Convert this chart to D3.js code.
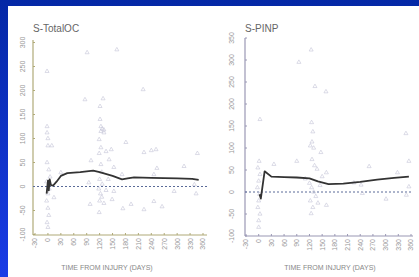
<!DOCTYPE html>
<html>
<head>
<meta charset="utf-8">
<script src="https://cdn.jsdelivr.net/npm/d3@7"></script>
<style>
  html, body { margin: 0; padding: 0; overflow: hidden; }
  svg { display: block; }
  text { font-family: "Liberation Sans", Arial, sans-serif; }
</style>
</head>
<body>
<svg id="chart" width="419" height="277"></svg>
<script>
// x ticks, days from injury
const dayTicks = [-30, 0, 30, 60, 90, 120, 150, 180, 210, 240, 270, 300, 330, 360];

// S-TotalOC panel
const ocTitle = "S-TotalOC";
const ocTicks = [-100, -50, 0, 50, 100, 150, 200, 250, 300];
const ocPoints = [
  [91, 279], [160, 285], [-2, 240], [86, 181], [128, 183], [121, 167], [221, 202], [121, 140],
  [123, 125], [126, 120], [130, 118], [-2, 125], [-2, 112], [123, 115], [130, 112], [0, 100],
  [0, 85], [9, 85], [119, 98], [181, 92], [123, 81], [135, 73], [147, 77], [119, 69], [223, 71],
  [240, 75], [251, 77], [347, 69], [100, 54], [142, 56], [-2, 50], [123, 46], [2, 35], [153, 40],
  [30, 29], [316, 42], [253, 38], [172, 25], [246, 25], [95, 8], [340, 4], [293, -10], [344, -15],
  [153, -10], [122, -15], [125, -22], [120, -30], [130, -35], [118, -5], [126, 5], [135, -8],
  [14, -23], [0, -15], [-3, -30], [0, -45], [2, -60], [-2, -75], [0, -85], [98, -37], [149, -27],
  [174, -46], [193, -37], [223, -48], [265, -42], [246, -31], [119, -54], [5, 20], [-3, 10],
  [3, -5], [125, 30], [120, 15], [140, 15]
];
const ocMeanDays = [-3, 0, 2, 4, 7, 12, 20, 30, 45, 75, 105, 120, 150, 172, 185, 200, 240, 300, 335, 350];
const ocMeanVals = [-15, 12, -8, 15, 3, 2, 10, 22, 28, 30, 33, 30, 22, 15, 17, 19, 18, 17, 16, 14];

// S-PINP panel
const pinpTitle = "S-PINP";
const pinpTicks = [-100, -50, 0, 50, 100, 150, 200, 250, 300, 350];
const pinpPoints = [
  [124, 323], [95, 295], [133, 240], [159, 228], [3, 165], [125, 158], [128, 137], [348, 133],
  [126, 114], [122, 105], [130, 100], [147, 90], [90, 70], [126, 74], [132, 60], [138, 52],
  [36, 63], [1, 70], [-2, 55], [3, 40], [0, 25], [-3, 10], [2, -5], [0, -20], [-2, -35], [3, -50],
  [0, -65], [0, -80], [160, 44], [355, 70], [261, 58], [328, 44], [225, 21], [242, 16], [355, 12],
  [301, -16], [120, 20], [125, 10], [130, 0], [135, -10], [122, -20], [140, -25], [145, 15],
  [128, -35], [160, -30], [124, -49], [245, -3], [349, -7], [110, 30], [150, 35]
];
const pinpMeanDays = [2, 5, 14, 30, 60, 90, 120, 140, 165, 200, 240, 280, 320, 355];
const pinpMeanVals = [-5, -15, 47, 35, 34, 33, 31, 24, 18, 19, 23, 28, 32, 35];

const xLabel = "TIME FROM INJURY (DAYS)";

const svg = d3.select("#chart");

// blue slide background
const grad = svg.append("defs").append("linearGradient")
  .attr("id", "bg").attr("x1", 0).attr("y1", 0).attr("x2", 0).attr("y2", 1);
grad.append("stop").attr("offset", "0%").attr("stop-color", "#0428a6");
grad.append("stop").attr("offset", "100%").attr("stop-color", "#1a3ce6");
svg.append("rect").attr("width", 419).attr("height", 277).attr("fill", "url(#bg)");
svg.append("rect").attr("x", 8).attr("y", 6).attr("width", 411).attr("height", 271).attr("fill", "#fff");

function drawPanel(cfg) {
  const x = d3.scaleLinear().domain([-30, 360]).range(cfg.xr);
  const y = d3.scaleLinear().domain(cfg.yd).range(cfg.yr);
  const g = svg.append("g");

  // axis lines
  g.append("line")
    .attr("x1", cfg.ax).attr("x2", cfg.ax)
    .attr("y1", cfg.top).attr("y2", cfg.bottom)
    .attr("stroke", cfg.axisColor).attr("stroke-width", 1.2);
  g.append("line")
    .attr("x1", cfg.ax).attr("x2", cfg.right)
    .attr("y1", cfg.bottom).attr("y2", cfg.bottom)
    .attr("stroke", cfg.axisColor).attr("stroke-width", 1.2);

  // tick marks
  g.selectAll(".yt").data(cfg.yTicks).join("line")
    .attr("x1", cfg.ax).attr("x2", cfg.ax + 2)
    .attr("y1", d => y(d)).attr("y2", d => y(d))
    .attr("stroke", cfg.axisColor);
  g.selectAll(".xt").data(dayTicks).join("line")
    .attr("x1", d => x(d)).attr("x2", d => x(d))
    .attr("y1", cfg.bottom).attr("y2", cfg.bottom - 2)
    .attr("stroke", cfg.axisColor);

  // tick labels, rotated
  g.selectAll(".yl").data(cfg.yTicks).join("text")
    .attr("transform", d => `translate(${cfg.ylx},${y(d)}) rotate(-90)`)
    .attr("text-anchor", "middle").attr("dy", "0.35em")
    .attr("font-size", 7).attr("fill", "#999")
    .text(d => d);
  g.selectAll(".xl").data(dayTicks).join("text")
    .attr("transform", d => `translate(${x(d)},${cfg.bottom + 3}) rotate(-90)`)
    .attr("text-anchor", "end").attr("dy", "0.35em")
    .attr("font-size", 7).attr("fill", "#999")
    .text(d => d);

  // zero reference
  g.append("line")
    .attr("x1", cfg.ax).attr("x2", cfg.right)
    .attr("y1", y(0)).attr("y2", y(0))
    .attr("stroke", "#5a6a98").attr("stroke-width", 1)
    .attr("stroke-dasharray", "2,2");

  // individual measurements
  const tri = d3.symbol().type(d3.symbolTriangle).size(7);
  g.selectAll(".pt").data(cfg.points).join("path")
    .attr("d", tri)
    .attr("transform", d => `translate(${x(d[0])},${y(d[1])})`)
    .attr("fill", "none").attr("stroke", "#c4c4d6").attr("stroke-width", 0.6);

  // mean curve
  const line = d3.line().x(d => x(d[0])).y(d => y(d[1]));
  g.append("path")
    .datum(d3.zip(cfg.meanDays, cfg.meanVals))
    .attr("d", line)
    .attr("fill", "none").attr("stroke", "#333").attr("stroke-width", 1.8)
    .attr("stroke-linejoin", "round");

  g.append("text")
    .attr("x", cfg.ax).attr("y", 32)
    .attr("font-size", 10).attr("fill", "#666")
    .text(cfg.title);

  g.append("text")
    .attr("x", cfg.labelX).attr("y", 270)
    .attr("text-anchor", "middle")
    .attr("font-size", 7).attr("fill", "#888")
    .text(xLabel);
}

drawPanel({
  title: ocTitle, yTicks: ocTicks, points: ocPoints,
  meanDays: ocMeanDays, meanVals: ocMeanVals,
  xr: [35, 203], yd: [0, 300], yr: [186.5, 42.5],
  ax: 33, right: 207, top: 40, bottom: 235, ylx: 22.5,
  axisColor: "#b0aa78", labelX: 107
});

drawPanel({
  title: pinpTitle, yTicks: pinpTicks, points: pinpPoints,
  meanDays: pinpMeanDays, meanVals: pinpMeanVals,
  xr: [246, 411], yd: [0, 350], yr: [192, 38],
  ax: 245, right: 413, top: 38, bottom: 236, ylx: 232,
  axisColor: "#9a98b4", labelX: 330
});
</script>
</body>
</html>
